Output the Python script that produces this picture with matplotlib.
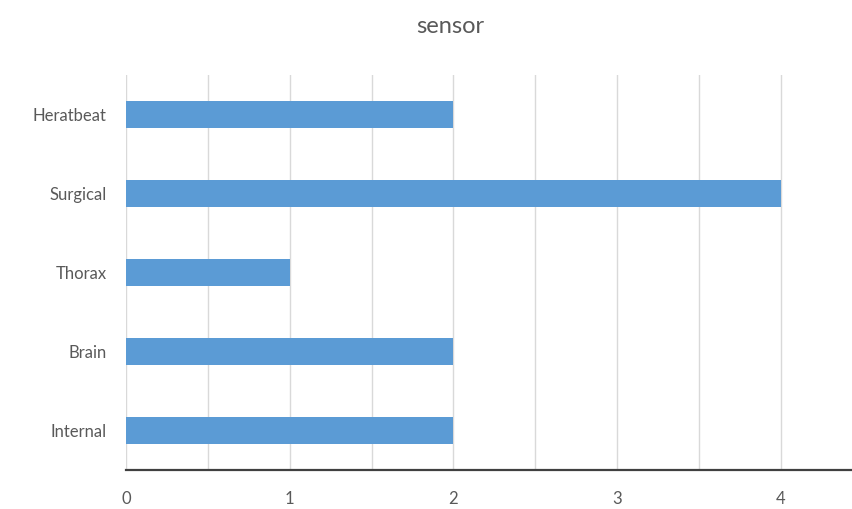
import matplotlib.pyplot as plt
import numpy as np

categories = ["Internal", "Brain", "Thorax", "Surgical", "Heratbeat"]
counts = [2, 2, 1, 4, 2]
x_ticks = [0, 1, 2, 3, 4]

plt.rcParams['font.family'] = ['Lato', 'DejaVu Sans']

fig = plt.figure(figsize=(8.53, 5.09), dpi=100)
ax = fig.add_axes([0.1477, 0.0766, 0.8523, 0.7761])

pos = np.arange(len(categories))
ax.barh(pos, counts, height=0.34, color="#5B9BD5", zorder=3)

ax.set_ylim(-0.5, len(categories) - 0.5)
ax.set_xlim(0, 4.44)
ax.set_yticks(pos)
ax.set_yticklabels(categories)
ax.set_xticks(x_ticks)
ax.set_xticks(np.arange(0, 4.5, 0.5), minor=True)
ax.grid(axis="x", which="both", color="#D9D9D9", lw=1, zorder=0)

for s in ["top", "right", "left"]:
    ax.spines[s].set_visible(False)
ax.spines["bottom"].set_color("#404040")
ax.spines["bottom"].set_linewidth(1.6)

ax.tick_params(axis="both", which="both", length=0, labelsize=12, colors="#595959")
ax.tick_params(axis="x", pad=15)
ax.tick_params(axis="y", pad=14)

fig.text(0.5275, 0.947, "sensor", ha="center", va="center", fontsize=17, color="#595959")

plt.savefig("out.png", dpi=100)
